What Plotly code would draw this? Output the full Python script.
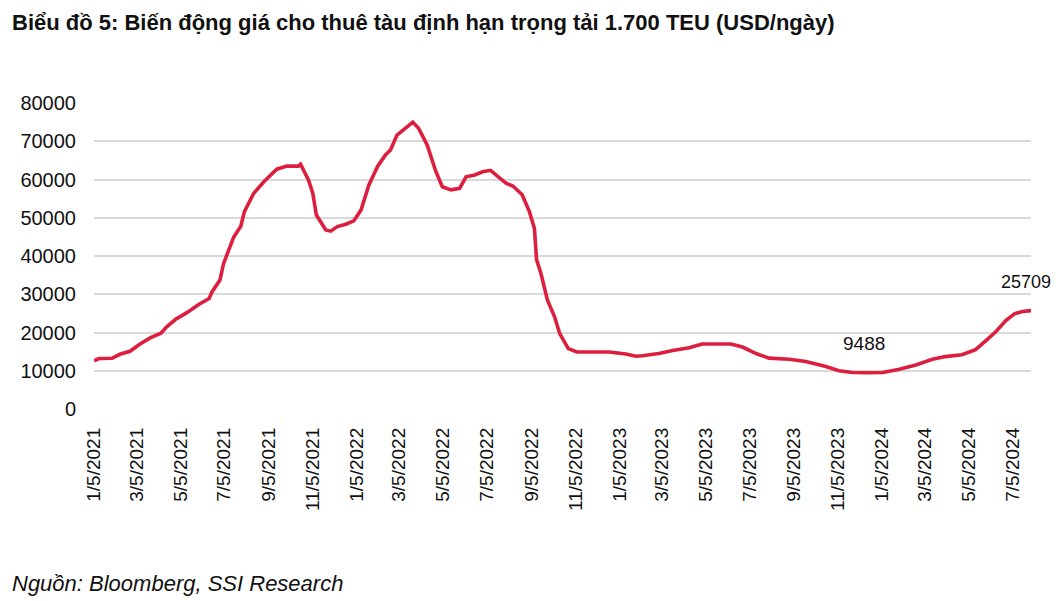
import plotly.graph_objects as go

dates = [
    "2021-01-05", "2021-01-12", "2021-01-30", "2021-02-10", "2021-02-24", "2021-03-10",
    "2021-03-24", "2021-04-08", "2021-04-16", "2021-04-28", "2021-05-14", "2021-05-31",
    "2021-06-14", "2021-06-18", "2021-06-29", "2021-07-04", "2021-07-18", "2021-07-28",
    "2021-08-02", "2021-08-15", "2021-08-29", "2021-09-16", "2021-09-30", "2021-10-16",
    "2021-10-19", "2021-10-30", "2021-11-05", "2021-11-10", "2021-11-23", "2021-11-30",
    "2021-12-09", "2021-12-21", "2022-01-01", "2022-01-11", "2022-01-22", "2022-02-03",
    "2022-02-14", "2022-02-21", "2022-03-02", "2022-03-14", "2022-03-24", "2022-04-01",
    "2022-04-13", "2022-04-25", "2022-05-04", "2022-05-16", "2022-05-28", "2022-06-06",
    "2022-06-18", "2022-06-29", "2022-07-10", "2022-07-22", "2022-08-01", "2022-08-10",
    "2022-08-23", "2022-09-02", "2022-09-09", "2022-09-12", "2022-09-18", "2022-09-27",
    "2022-10-07", "2022-10-14", "2022-10-26", "2022-11-07", "2022-12-22", "2023-01-14",
    "2023-01-28", "2023-02-06", "2023-03-01", "2023-03-20", "2023-04-12", "2023-04-30",
    "2023-06-09", "2023-06-25", "2023-07-14", "2023-08-01", "2023-08-29", "2023-09-21",
    "2023-10-19", "2023-11-06", "2023-11-25", "2023-12-18", "2024-01-06", "2024-01-29",
    "2024-02-21", "2024-03-15", "2024-04-02", "2024-04-25", "2024-05-14", "2024-05-28",
    "2024-06-11", "2024-06-25", "2024-07-07", "2024-07-18", "2024-07-30",
]
rates = [
    12600, 13200, 13250, 14300, 15100, 17000,
    18600, 19800, 21500, 23400, 25200, 27400,
    28900, 30600, 33700, 38000, 44900, 47800,
    51600, 56400, 59400, 62700, 63500, 63500,
    64000, 59900, 56400, 50700, 46800, 46500,
    47700, 48300, 49200, 52000, 58600, 63400,
    66400, 67700, 71600, 73400, 75000, 73400,
    69000, 62100, 58100, 57300, 57700, 60700,
    61200, 62000, 62400, 60500, 59000, 58300,
    56000, 51600, 47200, 39000, 35500, 28500,
    24100, 19800, 15800, 14900, 14900, 14400,
    13800, 13900, 14500, 15300, 16000, 17000,
    17000, 16200, 14500, 13300, 13000, 12400,
    11100, 10000, 9550, 9488, 9550, 10400,
    11500, 13000, 13700, 14200, 15500, 17800,
    20200, 23100, 24900, 25500, 25709,
]

tick_dates = [
    "2021-01-05", "2021-03-05", "2021-05-05", "2021-07-05", "2021-09-05", "2021-11-05",
    "2022-01-05", "2022-03-05", "2022-05-05", "2022-07-05", "2022-09-05", "2022-11-05",
    "2023-01-05", "2023-03-05", "2023-05-05", "2023-07-05", "2023-09-05", "2023-11-05",
    "2024-01-05", "2024-03-05", "2024-05-05", "2024-07-05",
]
tick_labels = [
    "1/5/2021", "3/5/2021", "5/5/2021", "7/5/2021", "9/5/2021", "11/5/2021",
    "1/5/2022", "3/5/2022", "5/5/2022", "7/5/2022", "9/5/2022", "11/5/2022",
    "1/5/2023", "3/5/2023", "5/5/2023", "7/5/2023", "9/5/2023", "11/5/2023",
    "1/5/2024", "3/5/2024", "5/5/2024", "7/5/2024",
]
y_ticks = [0, 10000, 20000, 30000, 40000, 50000, 60000, 70000, 80000]

title_text = "Biểu đồ 5: Biến động giá cho thuê tàu định hạn trọng tải 1.700 TEU (USD/ngày)"
source_text = "Nguồn: Bloomberg, SSI Research"

FONT = "'Liberation Sans', Arial, sans-serif"
RED = "#DC1F3E"
INK = "#111111"

# page body has an 8px margin; figure sized to fit the 1060x601 window
W, H = 1052, 593
ML, MR, MT, MB = 86, 29, 95, 192
plot_h = H - MT - MB


def py(fig_y):
    return (H - MB - fig_y) / plot_h


def px(fig_x):
    return (fig_x - ML) / (W - ML - MR)


fig = go.Figure()
fig.add_trace(go.Scatter(
    x=dates, y=rates, mode="lines",
    line=dict(color=RED, width=3.6),
    hoverinfo="x+y", showlegend=False,
))

min_i = rates.index(min(rates))
fig.add_annotation(x=dates[min_i], y=rates[min_i], text=str(rates[min_i]),
                   showarrow=False, yshift=29, xshift=-5,
                   font=dict(family=FONT, size=19, color=INK))
fig.add_annotation(x=dates[-1], y=rates[-1], text=str(rates[-1]),
                   showarrow=False, yshift=29, xshift=-5,
                   font=dict(family=FONT, size=18, color=INK))

fig.add_annotation(xref="paper", yref="paper", x=px(2), y=py(14), xanchor="left", yanchor="middle",
                   text="<b>" + title_text + "</b>", showarrow=False,
                   font=dict(family=FONT, size=22, color=INK))
fig.add_annotation(xref="paper", yref="paper", x=px(2), y=py(575), xanchor="left", yanchor="middle",
                   text="<i>" + source_text + "</i>", showarrow=False,
                   font=dict(family=FONT, size=22, color=INK))

fig.update_layout(
    width=W, height=H,
    margin=dict(l=ML, r=MR, t=MT, b=MB),
    paper_bgcolor="white", plot_bgcolor="white",
    font=dict(family=FONT, color=INK),
)
fig.update_xaxes(
    type="date", range=[dates[0], dates[-1]],
    tickmode="array", tickvals=tick_dates, ticktext=tick_labels,
    tickangle=-90, tickfont=dict(family=FONT, size=19, color=INK),
    showgrid=False, zeroline=False, showline=False, ticks="",
    ticklabelstandoff=14,
)
fig.update_yaxes(
    range=[0, 80000], tickmode="array", tickvals=y_ticks,
    ticktext=[str(v) for v in y_ticks],
    tickfont=dict(family=FONT, size=20, color=INK),
    showgrid=True, gridcolor="#D9D9D9", gridwidth=1.5,
    zeroline=False, showline=False, ticks="", ticklabelstandoff=17,
)

fig.write_html("out.html")
